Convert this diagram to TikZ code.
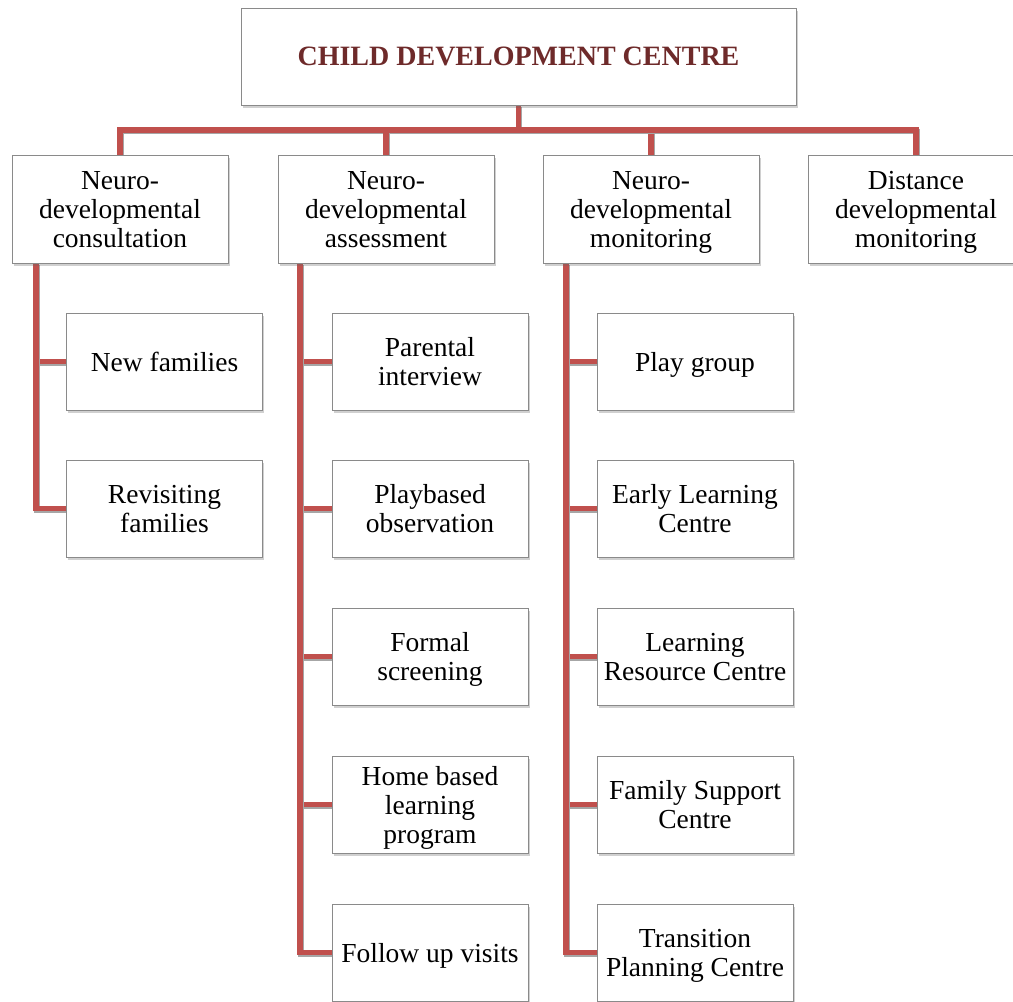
\documentclass[tikz,border=0pt]{standalone}
\usepackage{fontspec}
\setmainfont{Liberation Serif}
\usetikzlibrary{shadows,backgrounds}
\definecolor{conn}{HTML}{C0504D}
\definecolor{titlered}{HTML}{6E2A2A}
\definecolor{boxline}{HTML}{8A8A8A}
\newcommand\mlines[2][3.7pt]{\raisebox{-#1}[\height][\depth]{\begin{tabular}{@{}c@{}}#2\end{tabular}}}
\tikzset{
  box/.style={draw=boxline, line width=1pt, fill=white, rectangle,
    inner sep=0pt, font=\fontsize{27.5}{29}\selectfont,
    drop shadow={opacity=0.3, shadow xshift=1.5pt, shadow yshift=-2.5pt, fill=black!60}},
  topbox/.style={box, minimum width=555pt, minimum height=97pt,
    font=\fontsize{28}{30}\selectfont\bfseries, text=titlered},
  lvone/.style={box, minimum width=216pt, minimum height=108pt},
  lvtwo/.style={box, minimum width=196pt, minimum height=97pt},
  conline/.style={draw=conn, line width=5.5pt, line join=miter,
    preaction={draw=black!35, line width=5.5pt, transform canvas={xshift=1.2pt, yshift=-1.5pt}}}
}
\begin{document}
\begin{tikzpicture}[x=1pt, y=-1pt]
\clip (0,0) rectangle (1013,1002);
\useasboundingbox (0,0) rectangle (1013,1002);

\node[topbox] (top) at (518.5,56.5) {\mlines[2.5pt]{CHILD DEVELOPMENT CENTRE}};

\node[lvone] (A) at (120,209) {\mlines{Neuro-\\developmental\\consultation}};
\node[lvone] (B) at (386,209) {\mlines{Neuro-\\developmental\\assessment}};
\node[lvone] (C) at (651,209) {\mlines{Neuro-\\developmental\\monitoring}};
\node[lvone] (D) at (916,209) {\mlines{Distance\\developmental\\monitoring}};

\node[lvtwo] (A1) at (164.5,361.5) {\mlines{New families}};
\node[lvtwo] (A2) at (164.5,508.5) {\mlines{Revisiting\\families}};

\node[lvtwo] (B1) at (430,361.5) {\mlines{Parental\\interview}};
\node[lvtwo] (B2) at (430,508.5) {\mlines{Playbased\\observation}};
\node[lvtwo] (B3) at (430,656.5) {\mlines{Formal\\screening}};
\node[lvtwo] (B4) at (430,804.5) {\mlines{Home based\\learning\\program}};
\node[lvtwo] (B5) at (430,952.5) {\mlines{Follow up visits}};

\node[lvtwo] (C1) at (695,361.5) {\mlines{Play group}};
\node[lvtwo] (C2) at (695,508.5) {\mlines{Early Learning\\Centre}};
\node[lvtwo] (C3) at (695,656.5) {\mlines{Learning\\Resource Centre}};
\node[lvtwo] (C4) at (695,804.5) {\mlines{Family Support\\Centre}};
\node[lvtwo] (C5) at (695,952.5) {\mlines{Transition\\Planning Centre}};

\coordinate (bus) at (0,130);
\coordinate (vA) at (36,0);
\coordinate (vB) at (300,0);
\coordinate (vC) at (566,0);

\begin{scope}[on background layer]
  \fill[white] (0,0) rectangle (1013,1002);
  \foreach \n in {A,B,C,D}
    \draw[conline] (top.south) -- (top.south |- bus) -| (\n.north);
  \foreach \n in {A1,A2}
    \draw[conline] (A.south -| vA) |- (\n.west);
  \foreach \n in {B1,B2,B3,B4,B5}
    \draw[conline] (B.south -| vB) |- (\n.west);
  \foreach \n in {C1,C2,C3,C4,C5}
    \draw[conline] (C.south -| vC) |- (\n.west);
\end{scope}
\end{tikzpicture}
\end{document}
